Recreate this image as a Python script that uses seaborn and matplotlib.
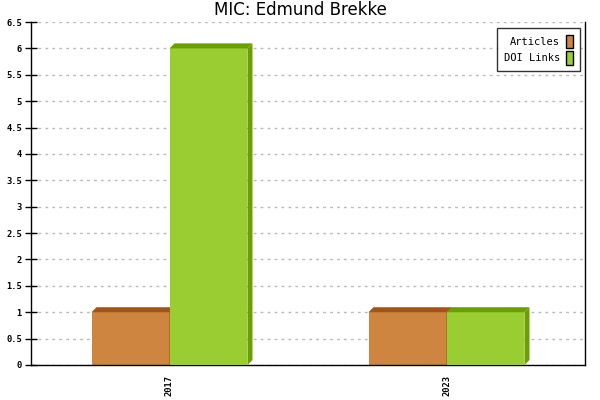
import matplotlib
matplotlib.use("Agg")
import matplotlib.pyplot as plt
import seaborn as sns
import pandas as pd
from matplotlib.patches import Polygon, Patch

years = ["2017", "2023"]
series = ["Articles", "DOI Links"]
articles = [1, 1]
doi_links = [6, 1]
front_colors = ["#CD853F", "#9ACD32"]
dark_colors = ["#A0541A", "#6B9E00"]
title = "MIC: Edmund Brekke"

df = pd.DataFrame({
    "year": years * 2,
    "series": [series[0]] * len(years) + [series[1]] * len(years),
    "value": articles + doi_links,
})

sns.set_style("white")
plt.rcParams["text.color"] = "black"
plt.rcParams["xtick.color"] = "black"
plt.rcParams["ytick.color"] = "black"
mono = ["DejaVu Sans Mono"]

fig = plt.figure(figsize=(6, 4), dpi=100)
L, R, T, B = 31, 585, 22, 365
ax = fig.add_axes([L / 600, (400 - B) / 400, (R - L) / 600, (B - T) / 400])

sns.barplot(data=df, x="year", y="value", hue="series", order=years,
            hue_order=series, palette=front_colors, width=0.563,
            saturation=1, ax=ax, legend=False, linewidth=0)

ax.set_xlim(-0.5, len(years) - 0.5)
ax.set_ylim(0, 6.5)

# 3D depth in data units (5 px)
depth_px = 5
dx = depth_px * (len(years)) / (R - L)
dy = depth_px * 6.5 / (B - T)

bars = [p for p in ax.patches]
n = len(years)
for i, p in enumerate(bars):
    s = i // n
    z = 2 + s
    p.set_zorder(z)
    p.set_edgecolor("none")
    x0 = p.get_x()
    x1 = x0 + p.get_width()
    h = p.get_height()
    top = Polygon([(x0, h), (x1, h), (x1 + dx, h + dy), (x0 + dx, h + dy)],
                  closed=True, facecolor=dark_colors[s], edgecolor="none", zorder=z)
    side = Polygon([(x1, 0), (x1, h), (x1 + dx, h + dy), (x1 + dx, dy)],
                   closed=True, facecolor=dark_colors[s], edgecolor="none", zorder=z)
    top.set_clip_on(False)
    ax.add_patch(top)
    ax.add_patch(side)

# grid
ax.set_yticks([i * 0.5 for i in range(14)])
ax.set_yticklabels([("%g" % (i * 0.5)) for i in range(14)], fontfamily=mono,
                   fontsize=6.3, fontweight="bold", color="black")
ax.yaxis.grid(True, linestyle=(0, (2, 3)), color="#BBBBBB", linewidth=1)
ax.set_axisbelow(True)

# x ticks at boundaries, labels at centres
ax.set_xticks([i - 0.5 for i in range(n + 1)])
ax.set_xticklabels([""] * (n + 1))
ax.set_xticks(list(range(n)), minor=True)
ax.set_xticklabels(years, minor=True, rotation=90, fontfamily=mono,
                   fontsize=6.3, fontweight="bold", color="black")
ax.tick_params(axis="x", which="major", direction="inout", length=9, width=1, color="black")
ax.tick_params(axis="x", which="minor", length=0, pad=7)
ax.tick_params(axis="y", direction="inout", length=9, width=1, color="black", pad=2, left=True)
ax.set_xlabel("")
ax.set_ylabel("")

for sp in ["left", "bottom", "right"]:
    ax.spines[sp].set_visible(True)
    ax.spines[sp].set_color("black")
    ax.spines[sp].set_linewidth(1)
ax.spines["top"].set_visible(False)

fig.text(0.5, 1 - 10 / 400, title, ha="center", va="center", fontsize=12,
         fontfamily="DejaVu Sans", color="black")

handles = [Patch(facecolor=c, edgecolor="black", linewidth=1) for c in front_colors]
leg = ax.legend(handles, series, loc="upper right",
                bbox_to_anchor=((580 - L) / (R - L), 1 - (28 - T) / (B - T)),
                borderaxespad=0, markerfirst=False, fancybox=False,
                frameon=True, handlelength=0.65, handleheight=1.6,
                handletextpad=0.6, labelspacing=0.3, borderpad=0.65,
                prop={"family": mono, "size": 7.5})
for t in leg.get_texts():
    t.set_color("black")
leg.get_frame().set_edgecolor("black")
leg.get_frame().set_linewidth(1)

fig.savefig("out.png", dpi=100)
